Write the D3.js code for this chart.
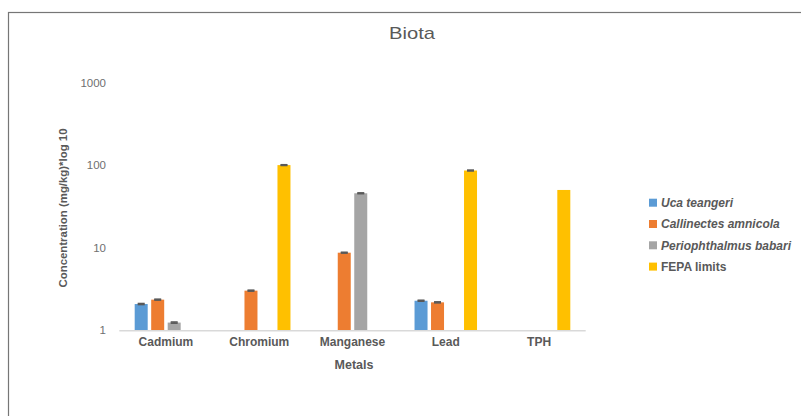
<!DOCTYPE html>
<html>
<head>
<meta charset="utf-8">
<script src="https://cdn.jsdelivr.net/npm/d3@7"></script>
<style>
  html, body { margin: 0; padding: 0; background: #fff; }
  svg { display: block; font-family: "Liberation Sans", Arial, sans-serif; }
</style>
</head>
<body>
<svg id="chart" width="801" height="416"></svg>
<script>
// Metal concentrations in biota (mg/kg), log scale
const metals = ["Cadmium", "Chromium", "Manganese", "Lead", "TPH"];
const seriesNames = ["Uca teangeri", "Callinectes amnicola", "Periophthalmus babari", "FEPA limits"];
const seriesColors = ["#5B9BD5", "#ED7D31", "#A5A5A5", "#FFC000"];
const seriesItalic = [true, true, true, false];

const ucaTeangeri = [2.08, null, null, 2.28, null];
const callinectesAmnicola = [2.35, 3.02, 8.7, 2.18, null];
const periophthalmusBabari = [1.24, null, 45.6, null, null];
const fepaLimits = [null, 100, null, 86, 50];

// Standard errors (small) shown as caps on top of the bars
const ucaErr = [0.03, null, null, 0.03, null];
const callinectesErr = [0.03, 0.04, 0.1, 0.03, null];
const periophthalmusErr = [0.02, null, 0.5, null, null];
const fepaErr = [null, 1, null, 1, null];

const yTicks = [1, 10, 100, 1000];

const seriesValues = [ucaTeangeri, callinectesAmnicola, periophthalmusBabari, fepaLimits];
const seriesErrors = [ucaErr, callinectesErr, periophthalmusErr, fepaErr];

const svg = d3.select("#chart");
const textColor = "#595959";

// Outer chart frame
svg.append("rect")
  .attr("x", 8.5).attr("y", 12.5)
  .attr("width", 900).attr("height", 500)
  .attr("fill", "none").attr("stroke", "#767676").attr("stroke-width", 1.2);

// Title
svg.append("text")
  .attr("x", 412).attr("y", 39)
  .attr("text-anchor", "middle")
  .attr("font-size", 17).attr("fill", textColor)
  .attr("textLength", 46).attr("lengthAdjust", "spacingAndGlyphs")
  .text("Biota");

const x0 = d3.scaleBand().domain(metals).range([119.3, 585.7]).paddingInner(0).paddingOuter(0);
const x1 = d3.scaleBand().domain(d3.range(seriesNames.length))
  .range([0, x0.bandwidth()]).paddingInner(0.212).paddingOuter(0.933);
const y = d3.scaleLog().domain([1, 1000]).range([330.3, 82.5]);

// Y tick labels
const yAxis = d3.axisLeft(y).tickValues(yTicks).tickFormat(d3.format("d")).tickSize(0).tickPadding(0);
const gy = svg.append("g").attr("transform", "translate(106,0)").call(yAxis);
gy.select(".domain").remove();
gy.selectAll("text").attr("fill", "#6f6f6f").attr("font-size", 11.5)
  .attr("font-family", "'Liberation Sans', Arial, sans-serif");

// Bars
metals.forEach((m, i) => {
  seriesValues.forEach((vals, s) => {
    const v = vals[i];
    if (v == null) return;
    const bx = x0(m) + x1(s);
    svg.append("rect")
      .attr("x", bx).attr("y", y(v))
      .attr("width", x1.bandwidth()).attr("height", y(1) - y(v))
      .attr("fill", seriesColors[s]);
    const e = seriesErrors[s][i];
    if (e != null) {
      const cx = bx + x1.bandwidth() / 2;
      const top = y(v + e), bot = y(v - e);
      svg.append("line").attr("x1", cx).attr("x2", cx).attr("y1", top).attr("y2", bot)
        .attr("stroke", "#595959").attr("stroke-width", 1);
      [top, bot].forEach(yy => {
        svg.append("line").attr("x1", cx - 3.5).attr("x2", cx + 3.5).attr("y1", yy).attr("y2", yy)
          .attr("stroke", "#595959").attr("stroke-width", 1.6);
      });
    }
  });
});

// Category axis baseline and labels
svg.append("line")
  .attr("x1", x0.range()[0]).attr("x2", x0.range()[1])
  .attr("y1", y(1) + 0.5).attr("y2", y(1) + 0.5)
  .attr("stroke", "#D9D9D9").attr("stroke-width", 1.5);

const xAxis = d3.axisBottom(x0).tickSize(0).tickPadding(0);
const gx = svg.append("g").attr("transform", `translate(0,${y(1) + 7})`).call(xAxis);
gx.select(".domain").remove();
gx.selectAll("text").attr("fill", textColor).attr("font-size", 12)
  .attr("font-weight", "bold").attr("dy", "0.71em")
  .attr("font-family", "'Liberation Sans', Arial, sans-serif");

// Axis titles
svg.append("text")
  .attr("x", 354).attr("y", 369)
  .attr("text-anchor", "middle").attr("font-size", 12.5).attr("font-weight", "bold")
  .attr("fill", textColor).text("Metals");

svg.append("text")
  .attr("transform", "translate(67,208) rotate(-90)")
  .attr("text-anchor", "middle").attr("font-size", 11).attr("font-weight", "bold")
  .attr("fill", textColor)
  .attr("textLength", 159).attr("lengthAdjust", "spacingAndGlyphs")
  .text("Concentration (mg/kg)*log 10");

// Legend
const legend = svg.append("g").attr("transform", "translate(649,202.7)");
seriesNames.forEach((name, s) => {
  const g = legend.append("g").attr("transform", `translate(0,${s * 21.3})`);
  g.append("rect").attr("x", 0).attr("y", -4).attr("width", 8).attr("height", 8)
    .attr("fill", seriesColors[s]);
  g.append("text").attr("x", 12).attr("y", 0).attr("dy", "0.35em")
    .attr("font-size", 12).attr("font-weight", "bold")
    .attr("font-style", seriesItalic[s] ? "italic" : "normal")
    .attr("fill", textColor).text(name);
});
</script>
</body>
</html>
